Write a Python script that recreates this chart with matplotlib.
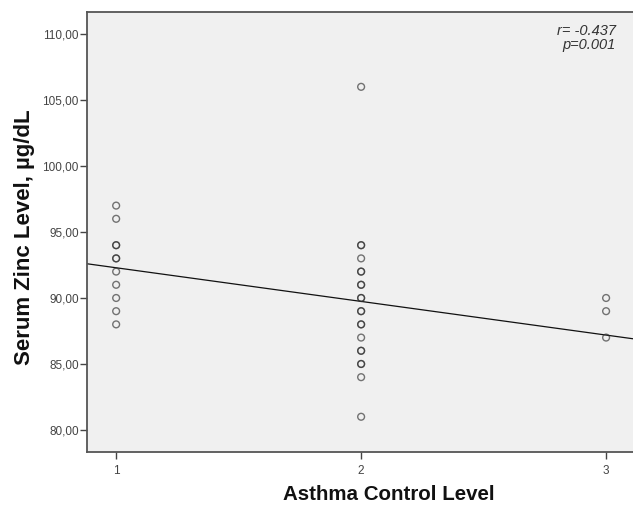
import matplotlib
matplotlib.use("Agg")
import matplotlib.pyplot as plt
import numpy as np

plt.rcParams['font.family'] = ['Liberation Sans', 'DejaVu Sans']

# Serum zinc by asthma control level (repeated values are overplotted)
level_1 = [97, 96, 94, 94, 93, 93, 92, 91, 90, 89, 88]
level_2 = [106, 94, 94, 93, 92, 92, 91, 91, 90, 90, 89, 89, 88, 88,
           87, 86, 86, 85, 85, 84, 81]
level_3 = [90, 89, 87]
groups = [1, 2, 3]

# Linear fit line
fit_intercept = 94.84
fit_slope = -2.55

x_ticks = [1, 2, 3]
y_ticks = [80, 85, 90, 95, 100, 105, 110]

W, H = 633, 505
fig = plt.figure(figsize=(W / 100, H / 100), dpi=100)
ax = fig.add_axes([87 / W, 53 / H, 1.0 - 87 / W + 0.002, 440 / H])
ax.set_facecolor('#f0f0f0')

for g, vals in zip(groups, [level_1, level_2, level_3]):
    ax.scatter(np.full(len(vals), g), vals, s=24, facecolors='none',
               edgecolors='#2e2e2e', linewidths=1.0, alpha=0.65, zorder=3)

ax.set_xlim(0.881, 3.115)
ax.set_ylim(78.33, 111.67)
xx = np.array(ax.get_xlim())
ax.plot(xx, fit_intercept + fit_slope * xx, color='#111111', lw=0.9, zorder=2)

ax.set_xticks(x_ticks)
ax.set_xticklabels([str(v) for v in x_ticks])
ax.set_yticks(y_ticks)
ax.set_yticklabels([f"{v:.2f}".replace('.', ',') for v in y_ticks])
ax.tick_params(axis='both', colors='#444444', labelsize=8.5, width=1.0,
               length=5, direction='out')
ax.tick_params(axis='x', pad=4)
ax.tick_params(axis='y', pad=1)

for side in ['left', 'bottom', 'top']:
    ax.spines[side].set_color('#555555')
    ax.spines[side].set_linewidth(1.3)
ax.spines['right'].set_visible(False)

ax.set_xlabel('Asthma Control Level', fontsize=14.8, fontweight='bold',
              color='#111111', va='center')
ax.set_ylabel('Serum Zinc Level, µg/dL', fontsize=16, fontweight='bold',
              color='#111111', va='center')

# place the axis titles in figure pixel positions
to_ax = ax.transAxes.inverted()
fig_px = lambda x, y: to_ax.transform(fig.transFigure.transform((x / W, 1 - y / H)))
ax.xaxis.set_label_coords(*fig_px(389, 495))
ax.yaxis.set_label_coords(*fig_px(25, 237.5))

fig.text(616 / W, 1 - 24 / H, 'r= -0.437\np=0.001', ha='right', va='top',
         fontsize=10.5, style='italic', color='#333333', linespacing=1.0)

fig.savefig('out.png', dpi=100)
